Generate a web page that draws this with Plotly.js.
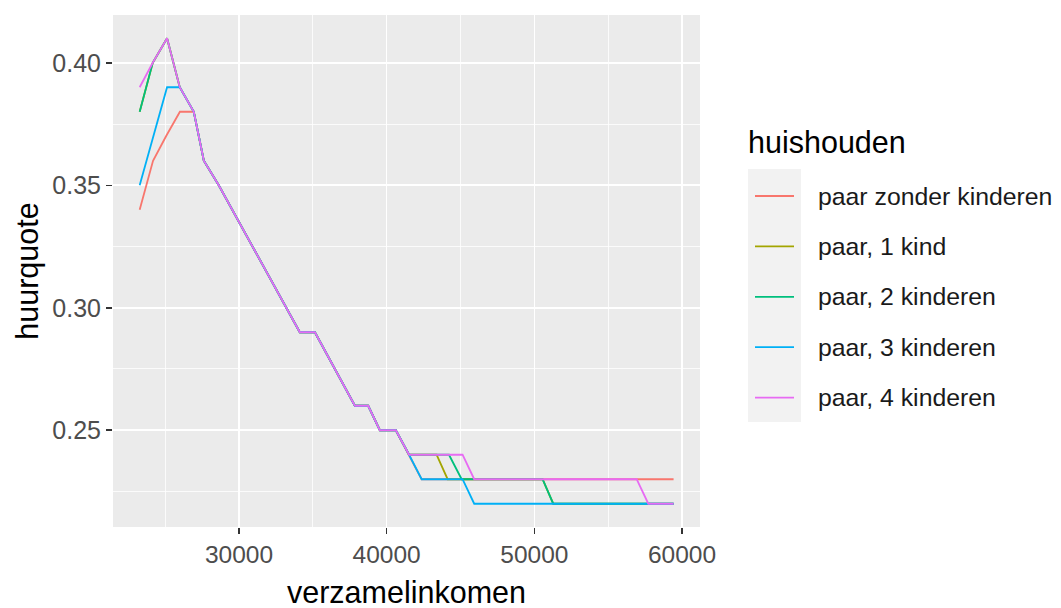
<!DOCTYPE html>
<html>
<head>
<meta charset="utf-8">
<script src="https://cdn.plot.ly/plotly-3.0.1.min.js"></script>
<style>html,body{margin:0;padding:0;background:#fff;}#chart{width:1061px;height:608px;}</style>
</head>
<body>
<div id="chart"></div>
<script>
// ---- data ----
const seriesNames = ["paar zonder kinderen", "paar, 1 kind", "paar, 2 kinderen", "paar, 3 kinderen", "paar, 4 kinderen"];
const seriesColors = ["#F8766D", "#A3A500", "#00BF7D", "#00B0F6", "#E76BF3"];

const x_zonder = [23276, 24180, 25060, 26000, 26940, 27620, 28630, 34120, 35140, 37850, 38750, 39540, 40620, 41520, 42370, 59430];
const y_zonder = [0.34, 0.36, 0.37, 0.38, 0.38, 0.36, 0.35, 0.29, 0.29, 0.26, 0.26, 0.25, 0.25, 0.24, 0.23, 0.23];

const x_1kind = [23276, 24160, 25130, 25990, 26940, 27620, 28630, 34120, 35140, 37850, 38750, 39540, 40620, 41520, 43380, 44130, 50560, 51280, 59430];
const y_1kind = [0.38, 0.40, 0.41, 0.39, 0.38, 0.36, 0.35, 0.29, 0.29, 0.26, 0.26, 0.25, 0.25, 0.24, 0.24, 0.23, 0.23, 0.22, 0.22];

const x_2kind = [23276, 24160, 25130, 25990, 26940, 27620, 28630, 34120, 35140, 37850, 38750, 39540, 40620, 41520, 44220, 45080, 50560, 51280, 59430];
const y_2kind = [0.38, 0.40, 0.41, 0.39, 0.38, 0.36, 0.35, 0.29, 0.29, 0.26, 0.26, 0.25, 0.25, 0.24, 0.24, 0.23, 0.23, 0.22, 0.22];

const x_3kind = [23276, 24200, 25130, 25990, 26940, 27620, 28630, 34120, 35140, 37850, 38750, 39540, 40620, 41520, 42370, 45140, 45930, 59430];
const y_3kind = [0.35, 0.37, 0.39, 0.39, 0.38, 0.36, 0.35, 0.29, 0.29, 0.26, 0.26, 0.25, 0.25, 0.24, 0.23, 0.23, 0.22, 0.22];

const x_4kind = [23276, 24160, 25130, 25990, 26940, 27620, 28630, 34120, 35140, 37850, 38750, 39540, 40620, 41520, 45140, 45930, 56930, 57720, 59430];
const y_4kind = [0.39, 0.40, 0.41, 0.39, 0.38, 0.36, 0.35, 0.29, 0.29, 0.26, 0.26, 0.25, 0.25, 0.24, 0.24, 0.23, 0.23, 0.22, 0.22];

const xTicks = [30000, 40000, 50000, 60000];
const yTicks = [0.25, 0.30, 0.35, 0.40];
const xTitle = "verzamelinkomen";
const yTitle = "huurquote";
const legendTitle = "huishouden";

// ---- layout geometry ----
const W = 1061, H = 608;
const M = {l: 113, r: 361, t: 15, b: 81};
const PW = W - M.l - M.r, PH = H - M.t - M.b;
const px2x = p => (p - M.l) / PW;
const py2y = p => (H - M.b - p) / PH;

const FONT = "Liberation Sans, Arial, sans-serif";
const xs = [x_zonder, x_1kind, x_2kind, x_3kind, x_4kind];
const ys = [y_zonder, y_1kind, y_2kind, y_3kind, y_4kind];

const traces = seriesNames.map((n, i) => ({
  type: "scatter", mode: "lines", name: n,
  x: xs[i], y: ys[i],
  line: {color: seriesColors[i], width: 1.8},
  showlegend: false, hoverinfo: "skip"
}));

// manual ggplot-style legend
const shapes = [{
  type: "rect", xref: "paper", yref: "paper",
  x0: px2x(748), x1: px2x(801), y0: py2y(422), y1: py2y(169),
  fillcolor: "#F2F2F2", line: {width: 0}, layer: "below"
}];
const annotations = [{
  xref: "paper", yref: "paper", x: px2x(746), y: py2y(142),
  xanchor: "left", yanchor: "middle", showarrow: false,
  text: legendTitle, font: {family: FONT, size: 30.5, color: "#000000"}
}, {
  // x-axis title
  xref: "paper", yref: "paper", x: 0.5, y: py2y(592),
  xanchor: "center", yanchor: "middle", showarrow: false,
  text: xTitle, font: {family: FONT, size: 30.5, color: "#000000"}
}];
const itemY0 = 196, itemStep = 50.4;
seriesNames.forEach((n, i) => {
  const cy = itemY0 + i * itemStep;
  shapes.push({
    type: "line", xref: "paper", yref: "paper",
    x0: px2x(755), x1: px2x(794), y0: py2y(cy), y1: py2y(cy),
    line: {color: seriesColors[i], width: 1.8}
  });
  annotations.push({
    xref: "paper", yref: "paper", x: px2x(816), y: py2y(cy),
    xanchor: "left", yanchor: "middle", showarrow: false,
    text: n, font: {family: FONT, size: 24.8, color: "#1A1A1A"}
  });
});

const layout = {
  width: W, height: H,
  margin: M,
  paper_bgcolor: "#FFFFFF", plot_bgcolor: "#EBEBEB",
  font: {family: FONT, color: "#4D4D4D"},
  showlegend: false,
  xaxis: {
    range: [21469, 61219],
    tickvals: xTicks, ticktext: xTicks.map(v => String(v)),
    showgrid: true, gridcolor: "#FFFFFF", gridwidth: 1.6,
    minor: {dtick: 5000, tick0: 0, showgrid: true, gridcolor: "#FFFFFF", gridwidth: 0.8},
    zeroline: false, showline: false,
    ticks: "outside", ticklen: 6, tickwidth: 1.5, tickcolor: "#333333",
    tickfont: {family: FONT, size: 24.5, color: "#4D4D4D"},
    fixedrange: true
  },
  yaxis: {
    range: [0.2105, 0.4195],
    tickvals: yTicks, ticktext: yTicks.map(v => v.toFixed(2)),
    showgrid: true, gridcolor: "#FFFFFF", gridwidth: 1.6,
    minor: {dtick: 0.025, tick0: 0, showgrid: true, gridcolor: "#FFFFFF", gridwidth: 0.8},
    zeroline: false, showline: false,
    ticks: "outside", ticklen: 6, tickwidth: 1.5, tickcolor: "#333333",
    tickfont: {family: FONT, size: 25, color: "#4D4D4D"},
    title: {text: yTitle, font: {family: FONT, size: 30.5, color: "#000000"}, standoff: 4},
    fixedrange: true
  },
  shapes: shapes,
  annotations: annotations
};

Plotly.newPlot("chart", traces, layout, {displayModeBar: false, staticPlot: true});
</script>
</body>
</html>
